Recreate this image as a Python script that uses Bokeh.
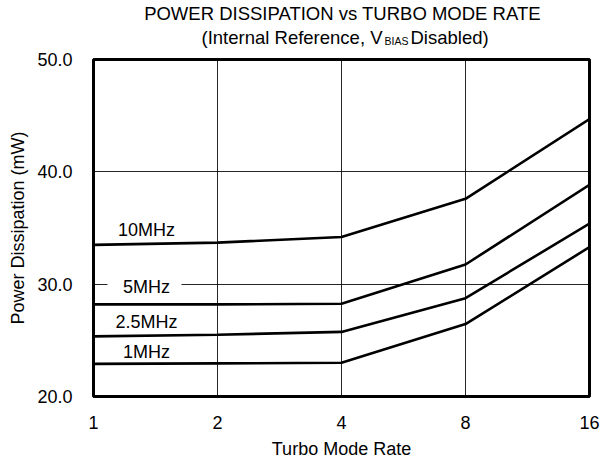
from bokeh.plotting import figure
from bokeh.models import Range1d, FixedTicker, Label, PrintfTickFormatter, BoxAnnotation
from bokeh.layouts import column
from bokeh.embed import file_html
from bokeh.resources import INLINE

# ---- data ----
rates = [1, 2, 4, 8, 16]
rate_labels = ["1", "2", "4", "8", "16"]
p_10mhz = [33.5, 33.7, 34.2, 37.6, 44.7]
p_5mhz = [28.2, 28.2, 28.25, 31.75, 38.85]
p_2_5mhz = [25.35, 25.5, 25.75, 28.75, 35.4]
p_1mhz = [22.9, 22.95, 23.0, 26.45, 33.3]
series = [("10MHz", p_10mhz), ("5MHz", p_5mhz), ("2.5MHz", p_2_5mhz), ("1MHz", p_1mhz)]
y_ticks = [20, 30, 40, 50]

FONT = "Liberation Sans"
W = 600
H_HEAD = 48
H_MAIN = 466 - H_HEAD

# ---- header (two-line title with subscript); its frame is aligned with the chart frame ----
head = figure(width=W, height=H_HEAD, x_range=Range1d(93, 589), y_range=Range1d(H_HEAD, 0),
              x_axis_type=None, y_axis_type=None, min_border=0,
              output_backend="svg", toolbar_location=None)
head.title.visible = False
head.outline_line_color = None
head.background_fill_color = "white"
head.border_fill_color = "white"

def head_label(x, y, text, size, align):
    head.add_layout(Label(x=x, y=y, text=text, text_font=FONT, text_font_size=size,
                          text_color="black", text_align=align,
                          text_baseline="middle"))

head_label(342, 12.5, "POWER DISSIPATION vs TURBO MODE RATE", "18.5px", "center")
head_label(382, 36.5, "(Internal Reference, V", "18.5px", "right")
head_label(384, 40.5, "BIAS", "10.5px", "left")
head_label(410, 36.5, "Disabled)", "18.5px", "left")

# ---- main chart ----
p = figure(width=W, height=H_MAIN, x_axis_type="log",
           x_range=Range1d(1, 16), y_range=Range1d(20, 50),
           output_backend="svg", toolbar_location=None,
           min_border_left=93, min_border_right=11,
           min_border_top=59 - H_HEAD, min_border_bottom=70)
p.title.visible = False
p.background_fill_color = "white"
p.border_fill_color = "white"
p.outline_line_color = "black"
p.outline_line_width = 3

for _, vals in series:
    p.line(rates, vals, line_color="black", line_width=2.6)

p.xaxis.ticker = FixedTicker(ticks=rates)
p.xaxis.major_label_overrides = {r: l for r, l in zip(rates, rate_labels)}
p.yaxis.ticker = FixedTicker(ticks=y_ticks)
p.yaxis.formatter = PrintfTickFormatter(format="%.1f")
for ax in (p.xaxis, p.yaxis):
    ax.axis_line_color = None
    ax.major_tick_line_color = None
    ax.minor_tick_line_color = None
    ax.major_label_text_font = FONT
    ax.major_label_text_font_size = "18px"
    ax.major_label_text_color = "black"
    ax.axis_label_text_font = FONT
    ax.axis_label_text_font_size = "18px"
    ax.axis_label_text_font_style = "normal"
    ax.axis_label_text_color = "black"
p.xaxis.axis_label = "Turbo Mode Rate"
p.yaxis.axis_label = "Power Dissipation (mW)"
p.xaxis.major_label_standoff = 13
p.xaxis.axis_label_standoff = 7
p.yaxis.major_label_standoff = 15
p.yaxis.axis_label_standoff = 6

p.xgrid.ticker = FixedTicker(ticks=rates)
p.ygrid.ticker = FixedTicker(ticks=y_ticks)
for g in (p.xgrid, p.ygrid):
    g.grid_line_color = "black"
    g.grid_line_width = 1
    g.grid_line_alpha = 0.85

# white gap in the 30.0 grid line behind the "5MHz" label
p.add_layout(BoxAnnotation(left=14, right=88, left_units="screen", right_units="screen",
                           bottom=29.6, top=30.4, fill_color="white", fill_alpha=1,
                           line_color=None))

label_pos = {"10MHz": 167, "5MHz": 110, "2.5MHz": 75, "1MHz": 45}
for name, _ in series:
    p.add_layout(Label(x=53, y=label_pos[name], x_units="screen", y_units="screen",
                       text=name, text_font=FONT, text_font_size="18px",
                       text_color="black", text_align="center",
                       text_baseline="middle"))

layout = column(head, p, spacing=0)
open("out.html", "w").write(file_html(layout, INLINE))
